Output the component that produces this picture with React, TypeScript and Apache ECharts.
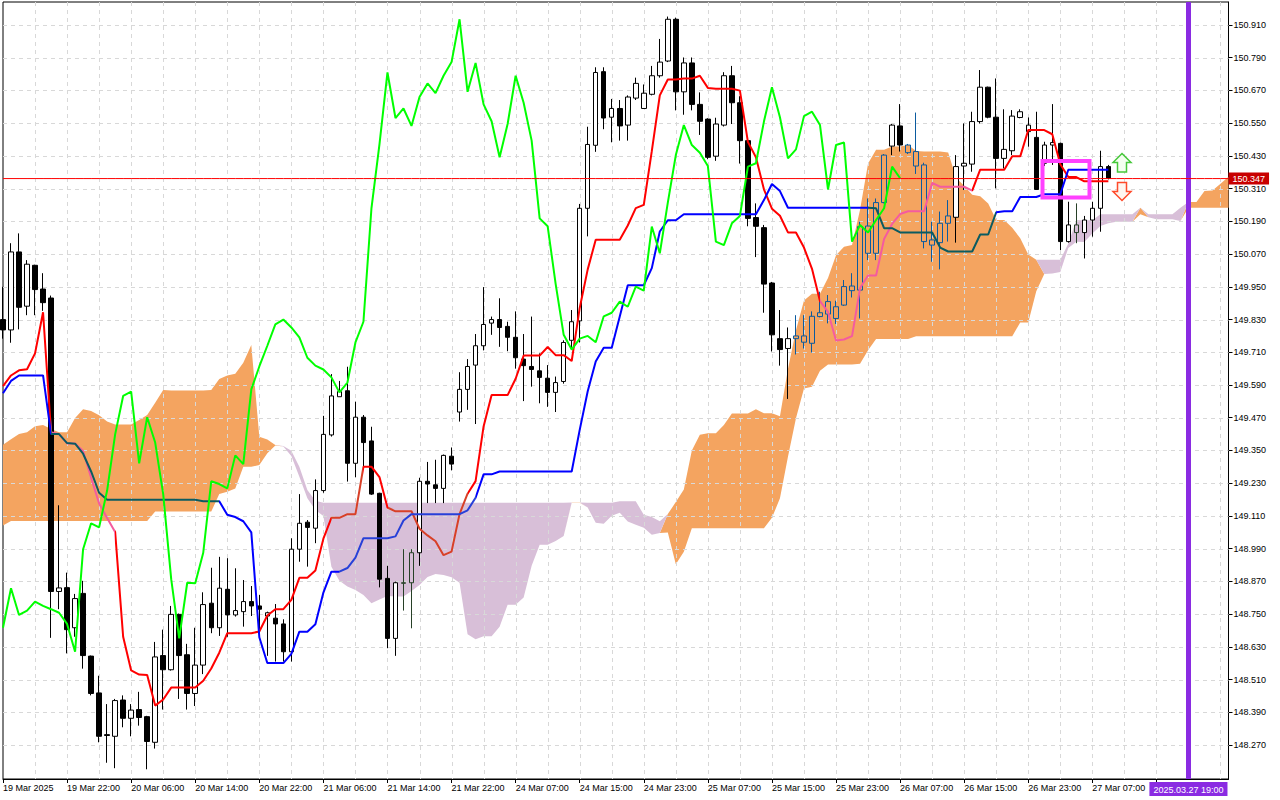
import React, { useEffect, useRef } from "react";
import * as echarts from "echarts";

// ---------- data (USDJPY H1, 19 Mar 14:00 .. 27 Mar 09:00) ----------
const opens = [
  149.830,149.792,150.078,149.879,150.029,149.942,149.909,148.833,148.847,148.700,
  148.826,148.596,148.461,148.308,148.302,148.435,148.368,148.400,148.374,148.280,
  148.598,148.546,148.749,148.601,148.459,148.563,148.790,148.700,148.841,148.747,
  148.759,148.796,148.780,148.743,148.735,148.714,148.612,148.988,149.087,149.065,
  149.203,149.407,149.547,149.569,149.303,149.472,149.385,149.193,148.881,148.661,
  148.865,148.865,148.975,149.237,149.224,149.211,149.329,149.491,149.574,149.663,
  149.734,149.817,149.830,149.805,149.765,149.685,149.658,149.642,149.615,149.563,
  149.603,149.754,149.825,150.238,150.469,150.739,150.572,150.604,150.543,150.642,
  150.604,150.656,150.724,150.778,150.931,150.665,150.771,150.619,150.565,150.429,
  150.543,150.724,150.625,150.486,150.204,150.167,149.964,149.760,149.724,149.760,
  149.770,149.743,149.841,149.850,149.834,149.883,149.953,149.938,150.173,150.073,
  150.259,150.466,150.540,150.470,150.446,150.397,150.122,150.112,150.183,150.205,
  150.393,150.400,150.556,150.682,150.572,150.421,150.449,150.571,150.519,150.498,
  150.403,150.470,150.476,150.116,150.177,150.149,150.195,150.238,150.391,
];
const highs = [
  149.950,150.110,150.146,150.048,150.031,150.000,149.918,149.149,148.902,148.824,
  148.872,148.598,148.524,148.420,148.439,148.452,148.420,148.465,148.377,148.648,
  148.693,148.780,148.752,148.641,148.700,148.830,148.920,148.960,148.955,148.918,
  148.875,148.853,148.820,148.759,148.787,148.731,149.028,149.190,149.095,149.244,
  149.477,149.630,149.605,149.657,149.529,149.480,149.437,149.195,148.927,148.869,
  148.988,148.988,149.250,149.308,149.316,149.335,149.361,149.637,149.685,149.777,
  149.949,149.841,149.908,149.822,149.860,149.777,149.841,149.706,149.663,149.621,
  149.754,149.865,150.254,150.537,150.755,150.755,150.639,150.635,150.652,150.717,
  150.692,150.760,150.859,150.941,150.937,150.791,150.791,150.663,150.568,150.570,
  150.737,150.760,150.649,150.493,150.256,150.177,149.968,149.865,149.801,149.846,
  149.846,149.860,149.932,149.920,149.899,149.975,150.000,150.189,150.274,150.274,
  150.437,150.547,150.620,150.474,150.589,150.405,150.189,150.226,150.268,150.433,
  150.549,150.592,150.745,150.684,150.714,150.601,150.598,150.601,150.571,150.592,
  150.482,150.620,150.479,150.262,150.256,150.210,150.262,150.449,150.397,
];
const lows = [
  149.760,149.745,149.794,149.846,149.846,149.862,148.663,148.768,148.606,148.667,
  148.550,148.452,148.280,148.205,148.185,148.335,148.302,148.341,148.181,148.257,
  148.400,148.543,148.439,148.400,148.413,148.530,148.680,148.670,148.667,148.741,
  148.704,148.743,148.680,148.597,148.576,148.576,148.576,148.942,148.924,149.010,
  149.195,149.401,149.547,149.236,149.252,149.291,149.187,148.848,148.625,148.597,
  148.763,148.698,148.927,149.157,149.157,149.157,149.277,149.456,149.499,149.447,
  149.717,149.774,149.730,149.714,149.650,149.531,149.584,149.523,149.510,149.491,
  149.595,149.722,149.746,150.135,150.445,150.528,150.480,150.486,150.486,150.635,
  150.602,150.652,150.717,150.774,150.597,150.581,150.597,150.507,150.418,150.412,
  150.538,150.547,150.402,150.172,150.059,149.855,149.713,149.661,149.539,149.702,
  149.724,149.709,149.838,149.816,149.814,149.880,149.911,149.834,150.048,150.048,
  150.256,150.433,150.446,150.437,150.364,150.091,150.042,150.014,150.116,150.112,
  150.305,150.372,150.549,150.568,150.311,150.384,150.433,150.568,150.464,150.305,
  150.393,150.397,150.085,150.112,150.110,150.054,150.134,150.152,150.344,
];
const closes = [
  149.792,150.078,149.875,150.033,149.940,149.892,148.833,148.846,148.693,148.807,
  148.598,148.459,148.302,148.305,148.433,148.368,148.398,148.371,148.283,148.593,
  148.546,148.749,148.598,148.459,148.563,148.785,148.700,148.845,148.747,148.763,
  148.796,148.780,148.768,148.755,148.714,148.612,148.988,149.083,149.068,149.203,
  149.409,149.550,149.566,149.303,149.472,149.379,149.190,148.878,148.661,148.865,
  148.863,148.975,149.237,149.227,149.211,149.332,149.300,149.574,149.658,149.734,
  149.812,149.830,149.801,149.765,149.690,149.661,149.647,149.618,149.563,149.599,
  149.746,149.822,150.238,150.472,150.736,150.569,150.604,150.540,150.646,150.696,
  150.660,150.724,150.774,150.931,150.665,150.771,150.619,150.557,150.425,150.547,
  150.724,150.625,150.486,150.201,150.172,149.960,149.774,149.720,149.760,149.770,
  149.747,149.842,149.855,149.896,149.877,149.951,149.936,150.171,150.073,150.259,
  150.433,150.543,150.470,150.442,150.393,150.116,150.103,150.183,150.210,150.391,
  150.403,150.556,150.682,150.572,150.421,150.454,150.576,150.592,150.543,150.307,
  150.470,150.479,150.116,150.177,150.149,150.195,150.238,150.391,150.348,
];

const tenkanHead = [149.586,149.625,149.644,149.648,149.706,149.857,149.417,149.410];
const kijunHead = [
  149.560,149.605,149.625,149.625,149.625,149.625,149.410,149.410,149.377,149.375,
  149.338,149.273,149.195,149.169,149.169,149.169,149.169,149.169,149.169,149.169,
  149.169,149.169,149.169,149.169,149.169,
];
const spanAHead = [
  149.371,149.391,149.410,149.417,149.439,149.443,149.429,149.417,149.417,149.469,
  149.501,149.495,149.479,149.456,149.445,149.445,149.445,149.462,149.480,149.525,
  149.572,149.570,149.570,149.570,149.570,149.570,149.572,149.612,149.625,149.631,
  149.672,149.737,149.400,149.390,149.370,149.365,149.330,149.254,149.175,149.132,
  149.110,148.924,148.872,148.851,148.838,148.820,148.790,148.804,148.816,148.815,
  148.815,
];
const spanBHead = [
  149.075,149.091,149.091,149.091,149.091,149.091,149.091,149.091,149.091,149.091,
  149.091,149.091,149.091,149.091,149.091,149.091,149.091,149.091,149.091,149.126,
  149.126,149.126,149.126,149.126,149.126,149.126,149.126,149.190,149.199,149.211,
  149.290,149.290,149.297,149.340,149.368,149.366,149.349,149.290,149.205,149.166,
  149.158,149.158,149.158,149.158,149.158,149.158,149.158,149.158,149.158,149.158,
  149.158,149.158,149.158,149.158,149.158,149.158,149.158,149.158,149.158,149.158,
  149.158,149.158,149.158,149.158,149.158,149.158,149.158,149.158,149.158,149.158,
  149.158,149.158,149.158,149.158,149.158,149.158,149.158,
];

const xLabels = [
  "19 Mar 2025","19 Mar 22:00","20 Mar 06:00","20 Mar 14:00","20 Mar 22:00",
  "21 Mar 06:00","21 Mar 14:00","21 Mar 22:00","24 Mar 07:00","24 Mar 15:00",
  "24 Mar 23:00","25 Mar 07:00","25 Mar 15:00","25 Mar 23:00","26 Mar 07:00",
  "26 Mar 15:00","26 Mar 23:00","27 Mar 07:00",
];
const yTicks = [
  148.270,148.390,148.510,148.630,148.750,148.870,148.990,149.110,149.230,149.350,
  149.470,149.590,149.710,149.830,149.950,150.070,150.190,150.310,150.430,150.550,
  150.670,150.790,150.910,
];
const bidPrice = 150.347;
const cursorLabel = "2025.03.27 19:00";
const cursorIndex = 148;

const NCAT = 154;
const Y_MIN = 148.1454;
const Y_MAX = 150.9944;
const FONT = "'Liberation Sans', Arial, sans-serif";
const KUMO_UP = "#f4a460"; // SandyBrown
const KUMO_DN = "#d8bfd8"; // Thistle
// colours that MetaTrader's XOR-painted cloud gives to marks lying inside it: [outside, in SandyBrown, in Thistle]
const TENKAN_COLORS = ["#ff0000", "#f45b9f", "#d84027"];
const KIJUN_COLORS = ["#0000ff", "#0b5b60", "#2740d8"];
const CANDLE_IN = ["#000000", "#0b5b9f", "#274027"];

function midRange(end: number, len: number): number {
  let h = -Infinity;
  let l = Infinity;
  for (let k = end - len + 1; k <= end; k++) {
    h = Math.max(h, highs[k]);
    l = Math.min(l, lows[k]);
  }
  return (h + l) / 2;
}

export default function App() {
  const ref = useRef<HTMLDivElement>(null);

  useEffect(() => {
    document.body.style.margin = "0";
    const el = ref.current!;
    const chart = echarts.init(el, null, { renderer: "svg" });

    const tenkan = closes.map((_, i) => (i < tenkanHead.length ? tenkanHead[i] : midRange(i, 9)));
    const kijun = closes.map((_, i) => (i < kijunHead.length ? kijunHead[i] : midRange(i, 26)));
    const spanA: number[] = [];
    const spanB: number[] = [];
    for (let i = 0; i < NCAT; i++) {
      spanA.push(i < spanAHead.length ? spanAHead[i] : (tenkan[i - 26] + kijun[i - 26]) / 2);
      spanB.push(i < spanBHead.length ? spanBHead[i] : midRange(i - 26, 52));
    }
    const kumoBase = spanA.map((a, i) => Math.min(a, spanB[i]));
    const kumoUp = spanA.map((a, i) => Math.max(a - spanB[i], 0));
    const kumoDn = spanA.map((a, i) => Math.max(spanB[i] - a, 0));
    const chikou = closes.slice(26);
    const bidLine = Array.from({ length: NCAT }, () => bidPrice);
    const cats = Array.from({ length: NCAT }, (_, i) => String(i));

    const cloudFlag = (i: number, v: number): number => {
      const a = spanA[i];
      const b = spanB[i];
      if (v <= Math.max(a, b) && v >= Math.min(a, b)) return a >= b ? 1 : 2;
      return 0;
    };
    const pieceList = (values: number[], colors: string[]) => {
      const pieces: any[] = [];
      let start = 0;
      let f = cloudFlag(0, values[0]);
      for (let i = 1; i <= values.length; i++) {
        const g = i < values.length ? cloudFlag(i, values[i]) : -1;
        if (g !== f) {
          pieces.push({ gte: start - 0.5, lt: i - 0.5, color: colors[f] });
          start = i;
          f = g;
        }
      }
      return pieces;
    };

    const candles = opens.map((o, i) => {
      const c = closes[i];
      const fo = cloudFlag(i, o);
      const fc = cloudFlag(i, c);
      const value = [o, c, lows[i], highs[i]];
      if (fo !== 0 && fo === fc) {
        const ink = CANDLE_IN[fo];
        return {
          value,
          itemStyle: {
            color: fo === 1 ? KUMO_UP : KUMO_DN,
            color0: ink,
            borderColor: ink,
            borderColor0: ink,
          },
        };
      }
      return value;
    });

    const option: any = {
      animation: false,
      backgroundColor: "#ffffff",
      textStyle: { fontFamily: FONT },
      grid: { left: 3, top: 2, right: 51.5, bottom: 21, show: true, borderColor: "#000", borderWidth: 1 },
      visualMap: [
        {
          type: "piecewise", show: false, seriesIndex: 5, dimension: 0,
          pieces: pieceList(tenkan, TENKAN_COLORS), outOfRange: { color: "#ff0000" },
        },
        {
          type: "piecewise", show: false, seriesIndex: 6, dimension: 0,
          pieces: pieceList(kijun, KIJUN_COLORS), outOfRange: { color: "#0000ff" },
        },
      ],
      xAxis: {
        type: "category",
        data: cats,
        boundaryGap: false,
        axisLine: { show: true, lineStyle: { color: "#000", width: 1 } },
        axisTick: { show: true, interval: 7, length: 4, lineStyle: { color: "#000" } },
        axisLabel: {
          interval: 7,
          align: "left",
          margin: 4,
          color: "#000",
          fontSize: 9,
          fontFamily: FONT,
          showMaxLabel: false,
          formatter: (_v: string, idx: number) =>
            idx % 8 === 0 && idx / 8 < xLabels.length ? xLabels[idx / 8] : "",
        },
        splitLine: { show: false },
      },
      yAxis: {
        type: "value",
        position: "right",
        min: Y_MIN,
        max: Y_MAX,
        axisLine: { show: true, lineStyle: { color: "#000", width: 1 } },
        axisTick: { show: true, length: 4, customValues: yTicks, lineStyle: { color: "#000" } },
        axisLabel: {
          customValues: yTicks,
          formatter: (v: number) => v.toFixed(3),
          margin: 5,
          color: "#000",
          fontSize: 9,
          fontFamily: FONT,
        },
        splitLine: { show: false },
      },
      series: [
        {
          type: "line", data: kumoBase, stack: "kumo", symbol: "none", z: 1, silent: true,
          lineStyle: { width: 0, opacity: 0 },
        },
        {
          type: "line", data: kumoUp, stack: "kumo", symbol: "none", z: 1, silent: true,
          lineStyle: { width: 0, opacity: 0 },
          areaStyle: { color: KUMO_UP, opacity: 1 },
        },
        {
          type: "line", data: kumoDn, stack: "kumo", symbol: "none", z: 1, silent: true,
          lineStyle: { width: 0, opacity: 0 },
          areaStyle: { color: KUMO_DN, opacity: 1 },
        },
        {
          type: "custom",
          z: 2,
          silent: true,
          data: [[0, Y_MIN]],
          renderItem: (params: any, api: any) => {
            const cs = params.coordSys;
            const children: any[] = [];
            const dash = { stroke: "#d8d8d8", lineWidth: 1, lineDash: [4, 4] };
            for (const v of yTicks) {
              const y = Math.round(api.coord([0, v])[1]) + 0.5;
              children.push({ type: "line", shape: { x1: cs.x, y1: y, x2: cs.x + cs.width, y2: y }, style: dash });
            }
            for (let i = 4; i < NCAT; i += 4) {
              if (i === cursorIndex) continue;
              const x = Math.round(api.coord([i, Y_MIN])[0]) + 0.5;
              children.push({ type: "line", shape: { x1: x, y1: cs.y, x2: x, y2: cs.y + cs.height }, style: dash });
            }
            return { type: "group", children };
          },
        },
        {
          type: "candlestick",
          data: candles,
          barWidth: 5,
          z: 3,
          silent: true,
          itemStyle: {
            color: "#ffffff",
            color0: "#000000",
            borderColor: "#000000",
            borderColor0: "#000000",
            borderWidth: 1,
          },
        },
        {
          type: "line", data: tenkan, symbol: "none", z: 4, silent: true,
          lineStyle: { width: 2 },
        },
        {
          type: "line", data: kijun, symbol: "none", z: 4, silent: true,
          lineStyle: { width: 2 },
        },
        {
          type: "line", data: chikou, symbol: "none", z: 5, silent: true,
          lineStyle: { color: "#00ff00", width: 2 },
        },
        {
          type: "line", data: bidLine, symbol: "none", z: 6, silent: true,
          color: "#ff0000",
          lineStyle: { color: "#ff0000", width: 1 },
          endLabel: {
            show: true,
            formatter: bidPrice.toFixed(3),
            distance: 0,
            backgroundColor: "#c80000",
            color: "#ffffff",
            padding: [2, 4, 1, 4],
            fontSize: 9,
            fontFamily: FONT,
          },
          markLine: {
            silent: true,
            symbol: ["none", "none"],
            animation: false,
            data: [
              {
                xAxis: String(cursorIndex),
                lineStyle: { color: "#8a2be2", width: 5, type: "solid", opacity: 1 },
                label: {
                  show: true, position: "start", distance: 3,
                  formatter: cursorLabel,
                  backgroundColor: "#8a2be2", color: "#ffffff",
                  padding: [3, 4, 2, 4], fontSize: 9, fontFamily: FONT,
                },
              },
            ],
          },
        },
      ],
      graphic: [
        {
          type: "rect", z: 100, silent: true,
          shape: { x: 1042.5, y: 161, width: 47, height: 36.5 },
          style: { fill: "none", stroke: "#ff40ff", lineWidth: 4 },
        },
        {
          type: "polygon", z: 100, silent: true,
          shape: { points: [[1122, 153.5], [1131, 162.5], [1126.5, 162.5], [1126.5, 172], [1117.5, 172], [1117.5, 162.5], [1113, 162.5]] },
          style: { fill: "#f4fff0", stroke: "#46c83a", lineWidth: 1.5 },
        },
        {
          type: "polygon", z: 100, silent: true,
          shape: { points: [[1122, 200.5], [1131, 191.5], [1126.5, 191.5], [1126.5, 182.5], [1117.5, 182.5], [1117.5, 191.5], [1113, 191.5]] },
          style: { fill: "#fff6f0", stroke: "#ff4a2a", lineWidth: 1.5 },
        },
      ],
    };

    chart.setOption(option);

    return () => {
      chart.dispose();
    };
  }, []);

  return <div ref={ref} style={{ width: 1280, height: 800 }} />;
}
